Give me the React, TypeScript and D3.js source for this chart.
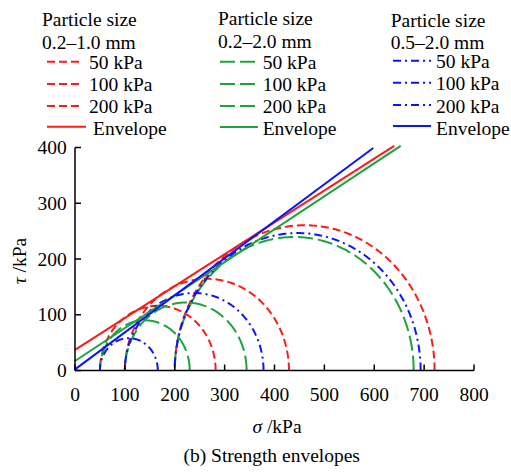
import React from "react";
import * as d3 from "d3";

// ---- data ----
const sigma3 = [50, 100, 200];
const sigma1Red = [282, 429, 721];   // 0.2–1.0 mm
const sigma1Green = [230, 344, 679]; // 0.2–2.0 mm
const sigma1Blue = [166, 378, 693];  // 0.5–2.0 mm
const envRed: [number, number][] = [[0, 37], [640, 403]];
const envGreen: [number, number][] = [[0, 17], [653, 403]];
const envBlue: [number, number][] = [[0, 2], [598, 399]];
const xTicks = [0, 100, 200, 300, 400, 500, 600, 700, 800];
const yTicks = [0, 100, 200, 300, 400];
const pressureLabels = ["50 kPa", "100 kPa", "200 kPa"];
const groupTitles = ["0.2–1.0 mm", "0.2–2.0 mm", "0.5–2.0 mm"];

const RED = "#ff1a1a";
const GREEN = "#1fa23c";
const BLUE = "#0a14ff";
const FONT = '"Liberation Serif", Tinos, "Times New Roman", "DejaVu Serif", serif';
const FS = 19.5;

const x = d3.scaleLinear().domain([0, 800]).range([75, 474]);
const y = d3.scaleLinear().domain([0, 400]).range([370.5, 147.5]);

const angles = d3.range(0, 181, 1).map((d) => (d * Math.PI) / 180);
const line = d3
  .line<[number, number]>()
  .x((d) => x(d[0]))
  .y((d) => y(d[1]));

function circlePath(s3: number, s1: number) {
  const c = (s1 + s3) / 2;
  const r = (s1 - s3) / 2;
  const pts: [number, number][] = angles.map((a) => [c + r * Math.cos(a), r * Math.sin(a)]);
  return line(pts) || "";
}

const series = [
  { s1: sigma1Red, env: envRed, color: RED, dash: "8,4" },
  { s1: sigma1Green, env: envGreen, color: GREEN, dash: "15,5" },
  { s1: sigma1Blue, env: envBlue, color: BLUE, dash: "8,4,2,4" },
];

const legendCols = [
  { tx: 42, ty: 26, lx1: 47, lx2: 83, ex2: 86, textX: 89, envTextX: 93, lineY: [61.7, 84, 106, 126.7], textY: [68.5, 90.7, 113.2, 135] },
  { tx: 218, ty: 25, lx1: 220, lx2: 258, ex2: 258, textX: 262.7, envTextX: 262.7, lineY: [61.7, 84, 106, 127], textY: [68.5, 90.7, 113.2, 135] },
  { tx: 390.7, ty: 26.7, lx1: 393, lx2: 431, ex2: 431, textX: 436, envTextX: 436, lineY: [60.7, 82.7, 105, 126], textY: [68, 90.2, 112.7, 134.5] },
];

export default function App() {
  return (
    <svg
      width={511}
      height={472}
      style={{ position: "absolute", left: 0, top: 0, background: "#fff", fontFamily: FONT, fontSize: FS }}
    >
      <rect width={511} height={472} fill="#fff" />
      {/* legend */}
      {legendCols.map((c, i) => (
        <g key={"lg" + i}>
          <text x={c.tx} y={c.ty}>Particle size</text>
          <text x={c.tx} y={c.ty + 22.5}>{groupTitles[i]}</text>
          {pressureLabels.map((p, j) => (
            <g key={j}>
              <line x1={c.lx1} x2={c.lx2} y1={c.lineY[j]} y2={c.lineY[j]} stroke={series[i].color} strokeWidth={2} strokeDasharray={series[i].dash} />
              <text x={c.textX} y={c.textY[j]}>{p}</text>
            </g>
          ))}
          <line x1={c.lx1} x2={c.ex2} y1={c.lineY[3]} y2={c.lineY[3]} stroke={series[i].color} strokeWidth={2} />
          <text x={c.envTextX} y={c.textY[3]}>Envelope</text>
        </g>
      ))}

      {/* circles */}
      {series.map((s, i) => (
        <g key={"c" + i}>
          {sigma3.map((s3, j) => (
            <path key={j} d={circlePath(s3, s.s1[j])} fill="none" stroke={s.color} strokeWidth={2} strokeDasharray={s.dash} />
          ))}
        </g>
      ))}
      {/* envelopes */}
      {series.map((s, i) => (
        <path key={"e" + i} d={line(s.env) || ""} fill="none" stroke={s.color} strokeWidth={2} />
      ))}

      {/* axes */}
      <line x1={x(0)} x2={x(800)} y1={y(0)} y2={y(0)} stroke="#000" strokeWidth={1.5} />
      <line x1={x(0)} x2={x(0)} y1={y(0)} y2={y(400)} stroke="#000" strokeWidth={1.5} />
      {xTicks.map((t) => (
        <g key={"xt" + t}>
          <line x1={x(t)} x2={x(t)} y1={y(0)} y2={y(0) - 6} stroke="#000" strokeWidth={1.5} />
          <text x={x(t)} y={400.5} textAnchor="middle">{t}</text>
        </g>
      ))}
      {yTicks.map((t) => (
        <g key={"yt" + t}>
          <line x1={x(0)} x2={x(0) + 6} y1={y(t)} y2={y(t)} stroke="#000" strokeWidth={1.5} />
          <text x={66.7} y={y(t) + 6.5} textAnchor="end">{t}</text>
        </g>
      ))}
      <text x={277} y={432.7} textAnchor="middle">
        <tspan fontStyle="italic">σ</tspan> /kPa
      </text>
      <text transform="translate(25.5,261) rotate(-90)" textAnchor="middle">
        <tspan fontStyle="italic">τ</tspan> /kPa
      </text>
      <text x={271.7} y={461.7} textAnchor="middle">(b) Strength envelopes</text>
    </svg>
  );
}
